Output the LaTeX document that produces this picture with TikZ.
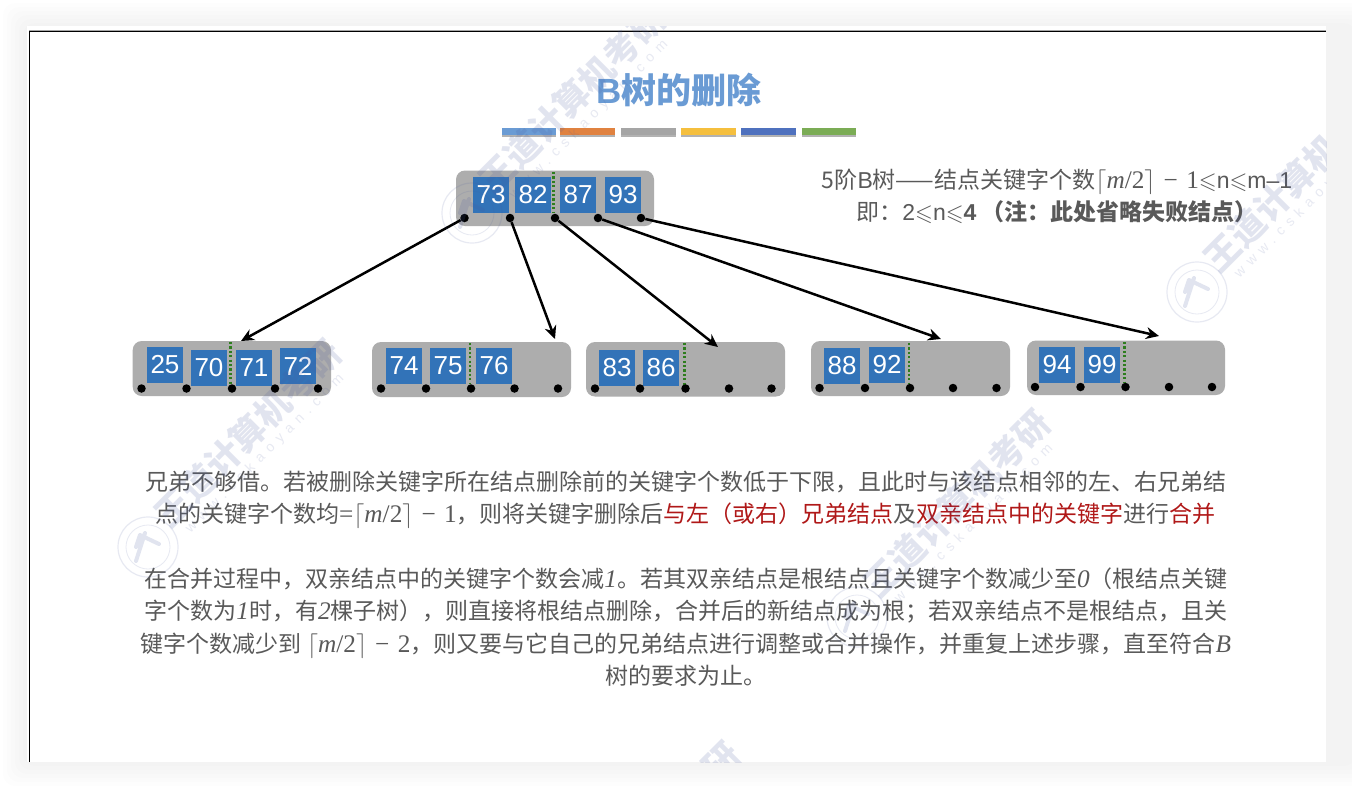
\documentclass[tikz,border=0pt]{standalone}
\usepackage{amssymb}
\usepackage{fontspec}
\setmainfont{Noto Sans CJK SC}
\newfontfamily\latfont{Liberation Sans}
\newfontfamily\serfont[Scale=1.1]{Liberation Serif}
\newfontfamily\urlfont[LetterSpace=45]{Liberation Sans}
\usetikzlibrary{arrows.meta,calc}

\definecolor{keyblue}{HTML}{3273B8}
\definecolor{nodegray}{HTML}{ADADAD}
\definecolor{splitgreen}{HTML}{2E7D1E}
\definecolor{textgray}{HTML}{595959}
\definecolor{titleblue}{HTML}{6A9BD4}
\definecolor{alertred}{HTML}{B01818}
\definecolor{markblue}{HTML}{4A5A9E}
\definecolor{barorange}{HTML}{E08240}
\definecolor{bargray}{HTML}{A5A5A5}
\definecolor{baryellow}{HTML}{F5BF3E}
\definecolor{barblue}{HTML}{4F71BE}
\definecolor{bargreen}{HTML}{7BAC55}

\tikzset{
	btnode/.style={fill=nodegray, rounded corners=9pt},
	keybox/.style={fill=keyblue, text=white, minimum size=36pt, inner sep=0pt, font=\latfont\fontsize{26}{26}\selectfont},
	ptrdot/.style={circle, fill=black, minimum size=8.5pt, inner sep=0pt},
	splitline/.style={splitgreen, line width=2.3pt, dash pattern=on 2.2pt off 2.2pt},
	ptrarrow/.style={-{Stealth[length=13pt, width=12pt]}, line width=2.5pt},
	bodytext/.style={text=textgray, align=center, inner sep=0pt, font=\fontsize{23}{32.6}\selectfont}
}

\def\tm#1{{\serfont\itshape #1}}
\def\ceilm#1{$\lceil$\tm{m}{\serfont/2}$\rceil$\,{\serfont\,−\,\,#1}}
\def\lat#1{{\latfont #1}}

% one faint stamp: seal, name and site running up at 45 degrees
\def\wmark#1(#2,#3){
	\draw[markblue, opacity=0.13, line width=1.2pt] (#2, #3) circle (30);
	\draw[markblue, opacity=0.13, line width=0.8pt] (#2, #3) circle (22);
	\draw[markblue, opacity=0.16, line width=4pt, line cap=round] ($(#2, #3)+(-8, -12)$) -- ($(#2, #3)+(11, -3)$) ($(#2, #3)+(-12, 0)$) -- ($(#2, #3)+(-8, -12)$) ($(#2, #3)+(-3, -14)$) -- ($(#2, #3)+(-12, 14)$);
	\node[rotate=45, anchor=west, text=markblue, opacity=0.16, inner sep=0pt, font=\bfseries\fontsize{35}{35}\selectfont] (#1name) at ($(#2, #3)+(13, -27)$) {王道计算机考研};
	\node[rotate=45, anchor=west, text=markblue, opacity=0.13, inner sep=0pt, font=\urlfont\fontsize{14}{14}\selectfont] (#1site) at ($(#2, #3)+(40, -16)$) {www.cskaoyan.com};
}

\begin{document}
\begin{tikzpicture}[x=1pt, y=-1pt]
	\useasboundingbox (0, 0) rectangle (1352, 788);
	
	%%%%% SLIDE %%%%%
	
	\foreach \s in {4,8,...,24}
		\fill[black, opacity=0.007, rounded corners=12pt] ({27-\s}, {27-\s}) rectangle ({1352+\s}, {762+\s});
	\fill[white] (27, 26) rectangle (1326, 762);
	\draw[black!35, line width=1pt] (29, 30) -- (1326, 30);
	\draw[black, line width=1pt] (29, 762) -- (29, 31) -- (1326, 31);
	
	%%%%% TITLE %%%%%
	
	\node[text=titleblue, inner sep=0pt, font=\bfseries\fontsize{35}{35}\selectfont] (title) at (679, 90) {\lat{B}树的删除};
	
	\fill[black!30] (502, 130) rectangle (856, 136.5);
	\fill[white] (556, 130) rectangle (560, 137);
	\fill[white] (615, 130) rectangle (621, 137);
	\fill[white] (676, 130) rectangle (681, 137);
	\fill[white] (736, 130) rectangle (741, 137);
	\fill[white] (796, 130) rectangle (802, 137);
	\fill[titleblue] (502, 128) rectangle (556, 135);
	\fill[barorange] (560, 128) rectangle (615, 135);
	\fill[bargray] (621, 128) rectangle (676, 135);
	\fill[baryellow] (681, 128) rectangle (736, 135);
	\fill[barblue] (741, 128) rectangle (796, 135);
	\fill[bargreen] (802, 128) rectangle (856, 135);
	
	\node[bodytext] (rule) at (1057, 196.5) {5阶\lat{B}树——结点关键字个数\ceilm{1}$\leqslant$\lat{n}$\leqslant$\lat{m–1}\\
		即：\lat{2}$\leqslant$\lat{n}$\leqslant$\lat{\bfseries 4} \textbf{（注：此处省略失败结点）}};
	
	%%%%% ROOT %%%%%
	
	\fill[btnode] (456, 170.5) rectangle (654, 226);
	\node[keybox] (k73) at (491, 195) {73};
	\node[keybox] (k82) at (533, 195) {82};
	\node[keybox] (k87) at (578, 195) {87};
	\node[keybox] (k93) at (623, 195) {93};
	\draw[splitline] (553.5, 172) -- (553.5, 213);
	\node[ptrdot] (r0) at (464.5, 218) {};
	\node[ptrdot] (r1) at (510, 218) {};
	\node[ptrdot] (r2) at (555, 218) {};
	\node[ptrdot] (r3) at (598, 218) {};
	\node[ptrdot] (r4) at (641, 218) {};
	
	%%%%% LEAVES %%%%%
	
	\fill[btnode] (132.7, 341) rectangle (331, 396);
	\node[keybox] (k25) at (165, 365) {25};
	\node[keybox] (k70) at (209, 368) {70};
	\node[keybox] (k71) at (254, 368) {71};
	\node[keybox] (k72) at (298, 366) {72};
	\draw[splitline] (230.5, 342) -- (230.5, 384);
	\node[ptrdot] (a0) at (141.5, 388.5) {};
	\node[ptrdot] (a1) at (186.5, 388.5) {};
	\node[ptrdot] (a2) at (232, 388.5) {};
	\node[ptrdot] (a3) at (275, 388.5) {};
	\node[ptrdot] (a4) at (318, 388.5) {};
	
	\fill[btnode] (372, 342) rectangle (571, 397);
	\node[keybox] (k74) at (404, 366) {74};
	\node[keybox] (k75) at (448, 366) {75};
	\node[keybox] (k76) at (494, 366) {76};
	\draw[splitline] (470, 343) -- (470, 384);
	\node[ptrdot] (b0) at (381, 388.5) {};
	\node[ptrdot] (b1) at (426, 388.5) {};
	\node[ptrdot] (b2) at (471, 388.5) {};
	\node[ptrdot] (b3) at (514.5, 388.5) {};
	\node[ptrdot] (b4) at (558, 388.5) {};
	
	\fill[btnode] (586, 342) rectangle (785, 396.5);
	\node[keybox] (k83) at (617, 368) {83};
	\node[keybox] (k86) at (661, 368) {86};
	\draw[splitline] (684.5, 343) -- (684.5, 385);
	\node[ptrdot] (c0) at (595, 388.5) {};
	\node[ptrdot] (c1) at (640, 388.5) {};
	\node[ptrdot] (c2) at (685.5, 388.5) {};
	\node[ptrdot] (c3) at (729, 388.5) {};
	\node[ptrdot] (c4) at (771.5, 388.5) {};
	
	\fill[btnode] (811, 341) rectangle (1010, 396);
	\node[keybox] (k88) at (842, 366) {88};
	\node[keybox] (k92) at (887, 365) {92};
	\draw[splitline] (909, 343) -- (909, 384);
	\node[ptrdot] (d0) at (819.5, 388) {};
	\node[ptrdot] (d1) at (865, 388) {};
	\node[ptrdot] (d2) at (910, 388) {};
	\node[ptrdot] (d3) at (953, 388) {};
	\node[ptrdot] (d4) at (996.5, 388) {};
	
	\fill[btnode] (1027, 340.5) rectangle (1225, 395);
	\node[keybox] (k94) at (1057, 365) {94};
	\node[keybox] (k99) at (1102, 365) {99};
	\draw[splitline] (1124.5, 342) -- (1124.5, 383);
	\node[ptrdot] (e0) at (1035, 387) {};
	\node[ptrdot] (e1) at (1080.5, 387) {};
	\node[ptrdot] (e2) at (1125.5, 387) {};
	\node[ptrdot] (e3) at (1169, 387) {};
	\node[ptrdot] (e4) at (1212, 387) {};
	
	%%%%% POINTERS %%%%%
	
	\coordinate (ta) at (241, 341);
	\coordinate (tb) at (555, 339);
	\coordinate (tc) at (718, 347);
	\coordinate (td) at (941, 339);
	\coordinate (te) at (1159, 336);
	\draw[ptrarrow] (r0) -- (ta);
	\draw[ptrarrow] (r1) -- (tb);
	\draw[ptrarrow] (r2) -- (tc);
	\draw[ptrarrow] (r3) -- (td);
	\draw[ptrarrow] (r4) -- (te);
	
	%%%%% TEXT %%%%%
	
	\node[bodytext] (parta) at (685.5, 500) {兄弟不够借。若被删除关键字所在结点删除前的关键字个数低于下限，且此时与该结点相邻的左、右兄弟结\\
		点的关键字个数均{\serfont=}\ceilm{1}，则将关键字删除后\textcolor{alertred}{与左（或右）兄弟结点}及\textcolor{alertred}{双亲结点中的关键字}进行\textcolor{alertred}{合并}};
	\node[bodytext] (partb) at (686, 627) {在合并过程中，双亲结点中的关键字个数会减\tm{1}。若其双亲结点是根结点且关键字个数减少至\tm{0}（根结点关键\\
		字个数为\tm{1}时，有\tm{2}棵子树），则直接将根结点删除，合并后的新结点成为根；若双亲结点不是根结点，且关\\
		键字个数减少到 \ceilm{2}，则又要与它自己的兄弟结点进行调整或合并操作，并重复上述步骤，直至符合\tm{B}\\
		树的要求为止。};
	
	%%%%% STAMPS %%%%%
	
	\begin{scope}
		\clip (27, 26) rectangle (1326, 762);
		\wmark{sa}(148, 547)
		\wmark{sb}(472, 213)
		\wmark{sc}(1197, 292)
		\wmark{sd}(857, 617)
		\wmark{se}(547, 949)
	\end{scope}
	
\end{tikzpicture}
\end{document}
